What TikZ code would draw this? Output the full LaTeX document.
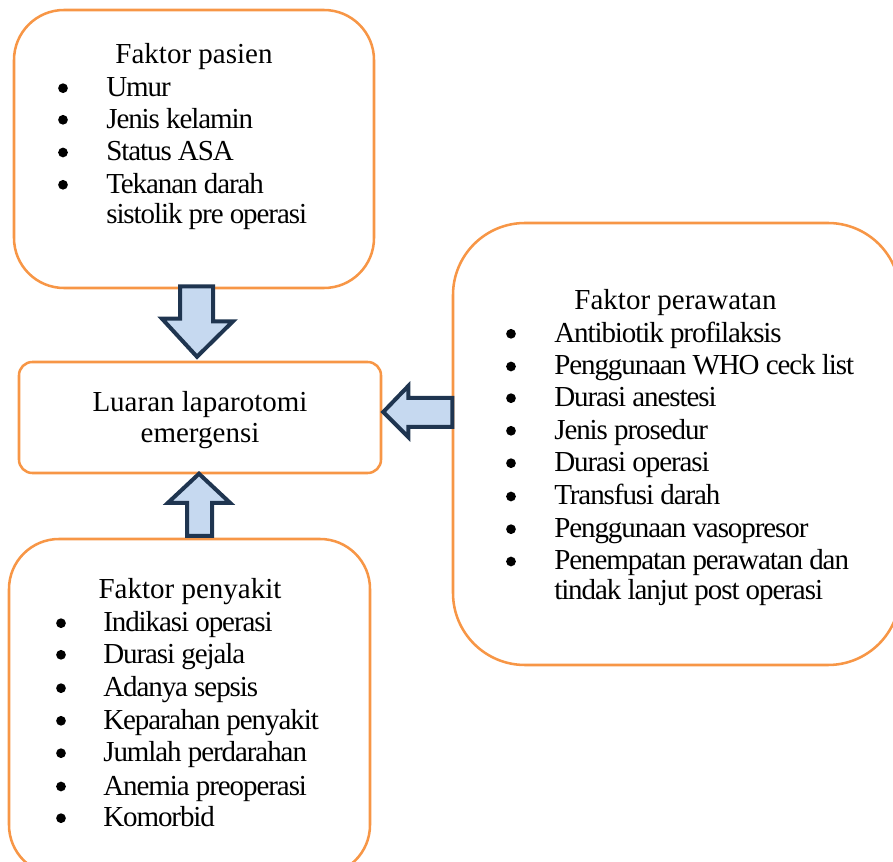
\documentclass[tikz,border=0pt]{standalone}
\usepackage{fontspec}
\setmainfont{Liberation Serif}
\newfontfamily\listfont[LetterSpace=-3.7]{Liberation Serif}
\usetikzlibrary{calc}
\definecolor{boxorange}{HTML}{F79646}
\definecolor{arrowline}{HTML}{1F3550}
\definecolor{arrowfill}{HTML}{C6D9F0}
\newcommand{\bodyfont}{\fontsize{21.75pt}{24.5pt}\selectfont}
\newcommand{\itemfont}{\listfont\fontsize{21.75pt}{24.5pt}\selectfont}
\begin{document}
\begin{tikzpicture}[x=0.75pt, y=-0.75pt,
  box/.style={draw=boxorange, line width=1.9pt, inner sep=0pt},
  txt/.style={anchor=base west, inner sep=0pt, font=\itemfont},
  ctxt/.style={anchor=base, inner sep=0pt, font=\bodyfont},
  bul/.style={circle, fill=black, inner sep=0pt, minimum size=7.3pt},
  blockarrow/.style={draw=arrowline, fill=arrowfill, line width=3pt, line join=miter}]
\useasboundingbox (0,0) rectangle (893,862);

% boxes
\node[box, rounded corners=37.5pt, minimum width=270pt, minimum height=208.5pt] (pasien) at (194,149) {};
\node[box, rounded corners=10pt, minimum width=271.5pt, minimum height=83.25pt] (luaran) at (200,417.5) {};
\node[box, rounded corners=37.5pt, minimum width=270.75pt, minimum height=252pt] (penyakit) at (189.5,707) {};
\node[box, rounded corners=54pt, minimum width=335.25pt, minimum height=331.5pt] (perawatan) at (676.5,444) {};

% block arrows between the boxes
\draw[blockarrow] ($(pasien.south)+(-14,-3)$) -- ++(33,0) -- ++(0,35) -- ++(20,0)
  -- ($(luaran.north)+(-3,-4)$) -- ++(-35,-38) -- ++(18,0) -- cycle;
\draw[blockarrow] ($(luaran.east)+(1,-5.5)$) -- ++(25,-26) -- ++(0,12) -- ++(44,0)
  -- ++(0,29) -- ++(-44,0) -- ++(0,10) -- cycle;
\draw[blockarrow] ($(luaran.south)+(-1,-0.5)$) -- ++(31,29) -- ++(-18,0) -- ++(0,33)
  -- ++(-25,0) -- ++(0,-33) -- ++(-19,0) -- cycle;

% Faktor pasien
\node[ctxt] (pt) at (194,63.3) {Faktor pasien};
\foreach \y/\t [count=\i] in {96.7/Umur, 128.3/Jenis kelamin, 161/Status ASA, 193.3/Tekanan darah}{
  \node[bul] (pb\i) at (63,\y-8.5) {};
  \node[txt] (pi\i) at (106,\y) {\t};
}
\node[txt] (pi5) at (106,223.5) {sistolik pre operasi};

% Luaran laparotomi emergensi
\node[ctxt] (l1) at (200,412) {Luaran laparotomi};
\node[ctxt] (l2) at (200,443) {emergensi};

% Faktor penyakit
\node[ctxt] (st) at (190,598.3) {Faktor penyakit};
\foreach \y/\t [count=\i] in {631.7/Indikasi operasi, 663.3/Durasi gejala, 696.7/Adanya sepsis,
  729.3/Keparahan penyakit, 761.7/Jumlah perdarahan, 795/Anemia preoperasi, 826.7/Komorbid}{
  \node[bul] (sb\i) at (61,\y-8.5) {};
  \node[txt] (si\i) at (103,\y) {\t};
}

% Faktor perawatan
\node[ctxt] (rt) at (675.5,309.3) {Faktor perawatan};
\foreach \y/\t [count=\i] in {342.3/Antibiotik profilaksis, 375/Penggunaan WHO ceck list,
  406.7/Durasi anestesi, 439.3/Jenis prosedur, 471.7/Durasi operasi, 505/Transfusi darah,
  537.7/Penggunaan vasopresor, 570/Penempatan perawatan dan}{
  \node[bul] (rb\i) at (511,\y-8.5) {};
  \node[txt] (ri\i) at (554,\y) {\t};
}
\node[txt] (ri9) at (554,600) {tindak lanjut post operasi};
\end{tikzpicture}
\end{document}
